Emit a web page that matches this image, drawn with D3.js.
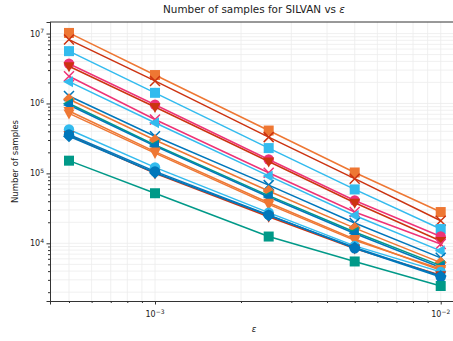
<!DOCTYPE html>
<html>
<head>
<meta charset="utf-8">
<script src="https://cdn.jsdelivr.net/npm/d3@7"></script>
<style>
body { margin: 0; background: #fff; }
text { font-family: "DejaVu Sans", sans-serif; fill: #222; }
</style>
</head>
<body>
<svg></svg>
<script>
// data
let epsilons = [0.0005, 0.001, 0.0025, 0.005, 0.01]
let colors = ['#EE7733', '#CC3311', '#33BBEE', '#EE3377', '#CC3311', '#EE3377', '#33BBEE', '#0077BB',
              '#EE7733', '#009988', '#0077BB', '#EE7733', '#EE7733', '#33BBEE', '#CC3311', '#0077BB', '#0077BB', '#009988']
let markers = ['s', 'x', 's', 'o', 'v', 'x', '<', 'x', 'D', '<', '<', 'v', 'v', 'o', 'v', 'D', 'o', 's']
let samples = [
  [1.02e7, 2.55e6, 4.1e5, 1.03e5, 2.8e4],
  [8.2e6, 2.1e6, 3.3e5, 8.4e4, 2.1e4],
  [5.6e6, 1.42e6, 2.3e5, 5.9e4, 1.6e4],
  [3.7e6, 9.6e5, 1.58e5, 4.1e4, 1.25e4],
  [3.4e6, 8.9e5, 1.48e5, 3.8e4, 1.08e4],
  [2.45e6, 5.9e5, 1.02e5, 2.8e4, 9.8e3],
  [2.05e6, 5.3e5, 9.2e4, 2.5e4, 7.8e3],
  [1.28e6, 3.4e5, 6.8e4, 1.95e4, 6.2e3],
  [1.15e6, 3.0e5, 5.6e4, 1.65e4, 5.3e3],
  [1.0e6, 2.55e5, 4.8e4, 1.45e4, 4.8e3],
  [9.5e5, 2.45e5, 4.6e4, 1.38e4, 4.5e3],
  [7.8e5, 2.05e5, 3.8e4, 1.15e4, 4.1e3],
  [7.2e5, 1.95e5, 3.6e4, 1.1e4, 4.3e3],
  [4.25e5, 1.22e5, 2.75e4, 9.2e3, 3.9e3],
  [3.5e5, 1.0e5, 2.4e4, 8.4e3, 3.5e3],
  [3.4e5, 1.02e5, 2.5e4, 8.7e3, 3.4e3],
  [3.6e5, 1.07e5, 2.55e4, 8.5e3, 3.3e3],
  [1.52e5, 5.2e4, 1.25e4, 5.5e3, 2.45e3]
]
let xTicks = [1e-3, 1e-2]
let yTicks = [1e4, 1e5, 1e6, 1e7]

let width = 453, height = 341
let mLeft = 50, mRight = 459, mTop = 22, mBottom = 301

let svg = d3.select('svg').attr('width', width).attr('height', height)

let x = d3.scaleLog().domain([Math.pow(10, -3.3675), Math.pow(10, -1.936)]).range([mLeft, mRight])
let y = d3.scaleLog().domain([Math.pow(10, 3.175), Math.pow(10, 7.165)]).range([mBottom, mTop])

// minor tick values
let xMinor = []
for (let k = -4; k <= -2; k++) for (let m = 2; m <= 9; m++) {
  let v = m * Math.pow(10, k)
  if (v > x.domain()[0] && v < x.domain()[1]) xMinor.push(v)
}
let yMinor = []
for (let k = 3; k <= 7; k++) for (let m = 2; m <= 9; m++) {
  let v = m * Math.pow(10, k)
  if (v > y.domain()[0] && v < y.domain()[1]) yMinor.push(v)
}

// grid
let grid = svg.append('g').attr('class', 'grid')
grid.selectAll('.gx').data(xMinor.concat(xTicks)).enter().append('line')
  .attr('x1', d => x(d)).attr('x2', d => x(d)).attr('y1', mTop).attr('y2', mBottom)
  .attr('stroke', '#ececec').attr('stroke-width', 0.8)
grid.selectAll('.gy').data(yMinor.concat(yTicks)).enter().append('line')
  .attr('x1', mLeft).attr('x2', mRight).attr('y1', d => y(d)).attr('y2', d => y(d))
  .attr('stroke', '#ececec').attr('stroke-width', 0.8)

// marker paths
function markerPath(m) {
  let s = 5
  if (m === 's') return `M${-s},${-s}H${s}V${s}H${-s}Z`
  if (m === 'D') return `M0,${-s * 1.2}L${s * 1.2},0L0,${s * 1.2}L${-s * 1.2},0Z`
  if (m === 'v') return `M${-s * 1.1},${-s * 0.8}L${s * 1.1},${-s * 0.8}L0,${s * 1.2}Z`
  if (m === '<') return `M${s * 0.8},${-s * 1.1}L${s * 0.8},${s * 1.1}L${-s * 1.2},0Z`
  if (m === 'x') return `M${-s},${-s}L${s},${s}M${-s},${s}L${s},${-s}`
  return null
}

let line = d3.line().x(d => x(d[0])).y(d => y(d[1]))

samples.forEach((vals, i) => {
  let pts = epsilons.map((e, j) => [e, vals[j]])
  let g = svg.append('g').attr('class', 'series')
  g.append('path').datum(pts).attr('d', line)
    .attr('fill', 'none').attr('stroke', colors[i]).attr('stroke-width', 1.5)
  let m = markers[i]
  if (m === 'o') {
    g.selectAll('circle').data(pts).enter().append('circle')
      .attr('cx', d => x(d[0])).attr('cy', d => y(d[1])).attr('r', 5.2)
      .attr('fill', colors[i])
  } else if (m === 'x') {
    g.selectAll('.mk').data(pts).enter().append('path')
      .attr('transform', d => `translate(${x(d[0])},${y(d[1])})`)
      .attr('d', markerPath(m)).attr('fill', 'none')
      .attr('stroke', colors[i]).attr('stroke-width', 1.5)
  } else {
    g.selectAll('.mk').data(pts).enter().append('path')
      .attr('transform', d => `translate(${x(d[0])},${y(d[1])})`)
      .attr('d', markerPath(m)).attr('fill', colors[i])
  }
})

// axes
let xAxis = svg.append('g').attr('transform', `translate(0,${mBottom})`)
xAxis.call(d3.axisBottom(x).tickValues(xTicks).tickSize(3.5).tickFormat(''))
xAxis.append('g').call(d3.axisBottom(x).tickValues(xMinor).tickSize(2).tickFormat(''))
xAxis.selectAll('.domain').attr('stroke', '#333').attr('stroke-width', 1)
xAxis.selectAll('line').attr('stroke', '#333')
xTicks.forEach(t => {
  let txt = xAxis.append('text').attr('x', x(t)).attr('y', 16)
    .attr('text-anchor', 'middle').style('font-size', '8px')
  txt.append('tspan').text('10')
  txt.append('tspan').text('\u2212' + Math.round(-Math.log10(t))).attr('dy', -3.5).style('font-size', '6px')
})

let yAxis = svg.append('g').attr('transform', `translate(${mLeft},0)`)
yAxis.call(d3.axisLeft(y).tickValues(yTicks).tickSize(3.5).tickFormat(''))
yAxis.append('g').call(d3.axisLeft(y).tickValues(yMinor).tickSize(2).tickFormat(''))
yAxis.selectAll('.domain').attr('stroke', '#333').attr('stroke-width', 1)
yAxis.selectAll('line').attr('stroke', '#333')
yTicks.forEach(t => {
  let txt = yAxis.append('text').attr('x', -6).attr('y', y(t) + 3)
    .attr('text-anchor', 'end').style('font-size', '8px')
  txt.append('tspan').text('10')
  txt.append('tspan').text(Math.round(Math.log10(t))).attr('dy', -3.5).style('font-size', '6px')
})

// top spine
svg.append('line').attr('x1', mLeft).attr('x2', mRight).attr('y1', mTop).attr('y2', mTop)
  .attr('stroke', '#333').attr('stroke-width', 1)

// labels
let title = svg.append('text').attr('x', 254).attr('y', 13).attr('text-anchor', 'middle')
  .style('font-size', '10.4px')
title.append('tspan').text('Number of samples for SILVAN vs ')
title.append('tspan').text('\u03b5').style('font-style', 'italic')
svg.append('text').attr('x', 254).attr('y', 332).attr('text-anchor', 'middle')
  .style('font-size', '8.5px').style('font-style', 'italic').text('\u03b5')
svg.append('text').attr('transform', `translate(18,${(mTop + mBottom) / 2}) rotate(-90)`)
  .attr('text-anchor', 'middle').style('font-size', '8.5px').text('Number of samples')
</script>
</body>
</html>
